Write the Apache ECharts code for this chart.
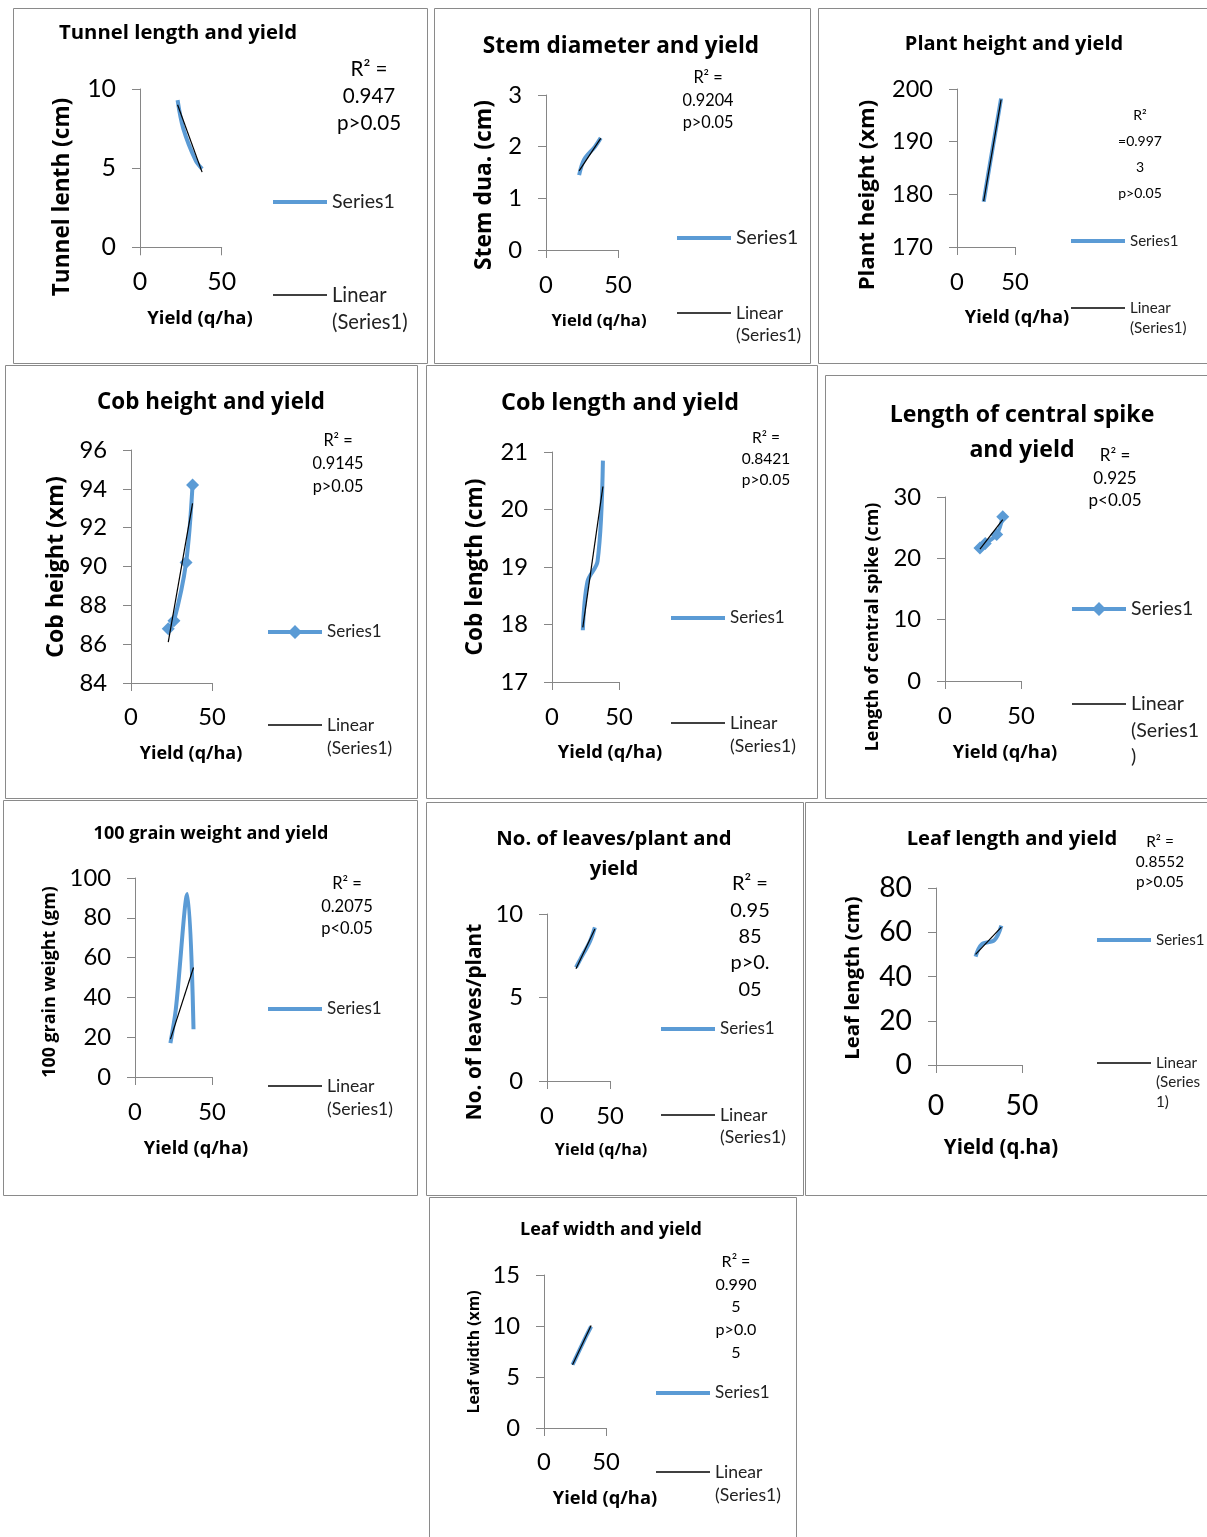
<!DOCTYPE html>
<html>
<head>
<meta charset="utf-8">
<script src="https://cdn.jsdelivr.net/npm/echarts@6/dist/echarts.min.js"></script>
<style>
html,body{margin:0;padding:0;background:#fff;}
#c{width:1207px;height:1537px;}
</style>
</head>
<body>
<div id="c"></div>
<script>
// ---------- data ----------
const yields = [23, 26.5, 34, 38];          // Yield (q/ha), shared x values
const trendX = [23, 38];                    // ends of each linear trendline
const xTicks = [0, 50];

const tunnelLength   = [9.3, 7.5, 5.5, 4.95];
const tunnelTrend    = [9.0, 4.75];
const stemDiameter   = [1.45, 1.75, 2.0, 2.17];
const stemTrend      = [1.53, 2.16];
const plantHeight    = [178.6, 183.3, 193.0, 198.2];
const plantTrend     = [178.7, 198.0];
const cobHeight      = [86.8, 87.2, 90.2, 94.2];
const cobHeightTrend = [86.1, 93.25];
const cobLength      = [17.9, 18.75, 19.1, 20.85];
const cobLengthTrend = [17.95, 20.4];
const spikeLength    = [21.7, 22.4, 23.9, 26.8];
const spikeTrend     = [21.5, 26.3];
const grainWeight    = [17, 34, 92, 24];
const grainTrend     = [19, 55];
const leavesPerPlant = [6.8, 7.3, 8.35, 9.2];
const leavesTrend    = [6.72, 9.1];
const leafLength     = [49, 54.5, 56.5, 63];
const leafLengthTrend= [50, 62.3];
const leafWidth      = [6.2, 7.1, 9.0, 9.95];
const leafWidthTrend = [6.2, 10.05];

// y axis [min, max, interval]
const tunnelAxis = [0, 10, 5];
const stemAxis = [0, 3, 1];
const plantAxis = [170, 200, 10];
const cobHeightAxis = [84, 96, 2];
const cobLengthAxis = [17, 21, 1];
const spikeAxis = [0, 30, 10];
const grainAxis = [0, 100, 20];
const leavesAxis = [0, 10, 5];
const leafLengthAxis = [0, 80, 20];
const leafWidthAxis = [0, 15, 5];

const titles = [
  ['Tunnel length and yield'], ['Stem diameter and yield'], ['Plant height and yield'],
  ['Cob height and yield'], ['Cob length and yield'], ['Length of central spike', 'and yield'],
  ['100 grain weight and yield'], ['No. of leaves/plant and', 'yield'], ['Leaf length and yield'],
  ['Leaf width and yield']
];
const yNames = ['Tunnel lenth (cm)', 'Stem dua. (cm)', 'Plant height (xm)', 'Cob height (xm)',
  'Cob length (cm)', 'Length of central spike (cm)', '100 grain weight (gm)', 'No. of leaves/plant',
  'Leaf length (cm)', 'Leaf width (xm)'];
const xNames = ['Yield (q/ha)', 'Yield (q/ha)', 'Yield (q/ha)', 'Yield (q/ha)', 'Yield (q/ha)',
  'Yield (q/ha)', 'Yield (q/ha)', 'Yield (q/ha)', 'Yield (q.ha)', 'Yield (q/ha)'];
const notes = [
  ['R² =', '0.947', 'p>0.05'], ['R² =', '0.9204', 'p>0.05'], ['R²', '=0.997', '3', 'p>0.05'],
  ['R² =', '0.9145', 'p>0.05'], ['R² =', '0.8421', 'p>0.05'], ['R² =', '0.925', 'p<0.05'],
  ['R² =', '0.2075', 'p<0.05'], ['R² =', '0.95', '85', 'p>0.', '05'], ['R² =', '0.8552', 'p>0.05'],
  ['R² =', '0.990', '5', 'p>0.0', '5']
];
const linLabels = [
  ['Linear', '(Series1)'], ['Linear', '(Series1)'], ['Linear', '(Series1)'], ['Linear', '(Series1)'],
  ['Linear', '(Series1)'], ['Linear', '(Series1', ')'], ['Linear', '(Series1)'], ['Linear', '(Series1)'],
  ['Linear', '(Series', '1)'], ['Linear', '(Series1)']
];

// ---------- layout (positions / sizes only) ----------
const P = [
  {v:tunnelLength, t:tunnelTrend, a:tunnelAxis, box:[13,8,427,363], tx:178, ty:33, ts:20.3, tl:28,
   g:[140,89,221.7,247.3], yl:24.9, xl:24.9, xly:282, ynx:63, yny:197, yns:22.6, xnx:200, xny:318, xns:18.5,
   nx:369, ny:69, ns:20.6, nl:27, lx:273, s1y:202, liy:295, s1s:19.6, lis:20.2, ll:27, mk:false},
  {v:stemDiameter, t:stemTrend, a:stemAxis, box:[434,8,810,363], tx:621, ty:47, ts:22.6, tl:28,
   g:[546,95,618,250], yl:23.8, xl:23.8, xly:285, ynx:485, yny:185, yns:22.9, xnx:599, xny:321, xns:16.7,
   nx:708, ny:78, ns:16.3, nl:22.5, lx:677, s1y:238, liy:313, s1s:19.4, lis:17.4, ll:22, mk:false},
  {v:plantHeight, t:plantTrend, a:plantAxis, box:[818,8,1215,363], tx:1014, ty:44, ts:20, tl:28,
   g:[957,89,1015,247], yl:23.5, xl:23.8, xly:282, ynx:868, yny:195, yns:22.2, xnx:1017, xny:318, xns:18.3,
   nx:1140, ny:115, ns:14, nl:26, lx:1071, s1y:241, liy:308, s1s:15.1, lis:15.1, ll:20, mk:false},
  {v:cobHeight, t:cobHeightTrend, a:cobHeightAxis, box:[5,365,417,798], tx:211, ty:403, ts:22.4, tl:30,
   g:[131,450,212,683], yl:23.8, xl:23.8, xly:717, ynx:56, yny:567, yns:23.1, xnx:191, xny:754, xns:18,
   nx:338, ny:441, ns:16.3, nl:23, lx:268, s1y:632, liy:725, s1s:17, lis:17.4, ll:23, mk:true},
  {v:cobLength, t:cobLengthTrend, a:cobLengthAxis, box:[426,365,817,798], tx:620, ty:403, ts:23.4, tl:30,
   g:[552,452,619,682], yl:23.8, xl:23.8, xly:717, ynx:476, yny:567, yns:22.7, xnx:610, xny:753, xns:18.3,
   nx:766, ny:438, ns:15.5, nl:21, lx:671, s1y:618, liy:723, s1s:17, lis:17.6, ll:23, mk:false},
  {v:spikeLength, t:spikeTrend, a:spikeAxis, box:[825,375,1215,798], tx:1022, ty:415, ts:23.1, tl:35,
   g:[945,497,1021,681], yl:23.8, xl:23.8, xly:716, ynx:873, yny:627, yns:17.9, xnx:1005, xny:753, xns:18.3,
   nx:1115, ny:456, ns:17, nl:22.5, lx:1072, s1y:609, liy:704, s1s:19.4, lis:19.6, ll:26.5, mk:true},
  {v:grainWeight, t:grainTrend, a:grainAxis, box:[3,800,417,1195], tx:211, ty:834, ts:18, tl:26,
   g:[135,878,212,1077], yl:23.8, xl:23.8, xly:1112, ynx:50, yny:982, yns:17.9, xnx:196, xny:1149, xns:18.3,
   nx:347, ny:884, ns:16.5, nl:22.5, lx:268, s1y:1009, liy:1086, s1s:17, lis:17.6, ll:23, mk:false},
  {v:leavesPerPlant, t:leavesTrend, a:leavesAxis, box:[426,802,803,1195], tx:614, ty:839, ts:20.3, tl:30,
   g:[547,914,610,1081], yl:23.8, xl:23.8, xly:1116, ynx:475, yny:1022, yns:20.8, xnx:601, xny:1150, xns:16.2,
   nx:750, ny:884, ns:20, nl:26.3, lx:661, s1y:1029, liy:1115, s1s:17, lis:17.6, ll:22, mk:false},
  {v:leafLength, t:leafLengthTrend, a:leafLengthAxis, box:[805,802,1215,1195], tx:1012, ty:839, ts:20.2, tl:28,
   g:[936,888,1022,1065], yl:28.3, xl:28.3, xly:1106, ynx:853, yny:978, yns:20.3, xnx:1001, xny:1148, xns:20.5,
   nx:1160, ny:842, ns:15.4, nl:20, lx:1097, s1y:940, liy:1063, s1s:15.1, lis:15.2, ll:19.5, mk:false},
  {v:leafWidth, t:leafWidthTrend, a:leafWidthAxis, box:[429,1197,796,1545], tx:611, ty:1230, ts:18, tl:26,
   g:[544,1275,606,1428], yl:23.8, xl:23.8, xly:1462, ynx:475, yny:1352, yns:15.8, xnx:605, xny:1499, xns:18.3,
   nx:736, ny:1262, ns:16.1, nl:22.6, lx:656, s1y:1393, liy:1472, s1s:17, lis:17.6, ll:23, mk:false}
];

const FONT = 'Lato, "Open Sans", "DejaVu Sans", sans-serif';
const FONT_B = '"Open Sans", Roboto, "DejaVu Sans", sans-serif';
const AXIS = '#868686';
const BLUE = '#5B9BD5';
const TXT = '#000';

const option = {
  animation: false,
  backgroundColor: '#fff',
  textStyle: {fontFamily: FONT},
  title: [], grid: [], xAxis: [], yAxis: [], legend: [], series: [], graphic: []
};

P.forEach((p, i) => {
  const [gl, gt, gr, gb] = p.g;
  // panel border
  option.graphic.push({type: 'rect', silent: true, z: -10,
    shape: {x: p.box[0] + 0.5, y: p.box[1] + 0.5, width: p.box[2] - p.box[0], height: p.box[3] - p.box[1]},
    style: {fill: 'none', stroke: '#8a8a8a', lineWidth: 1}});
  // title
  option.title.push({text: titles[i].join('\n'), left: p.tx, top: p.ty - p.tl / 2, textAlign: 'center', padding: 0,
    textStyle: {fontFamily: FONT_B, fontWeight: 'bold', fontSize: p.ts, lineHeight: p.tl, color: TXT}});
  option.grid.push({left: gl, top: gt, width: gr - gl, height: gb - gt, containLabel: false, outerBoundsMode: 'none'});
  const sx = p.xnx - (gl + gr) / 2;
  option.xAxis.push({
    type: 'value', gridIndex: i, min: xTicks[0], max: xTicks[1], interval: xTicks[1] - xTicks[0],
    axisLine: {show: true, onZero: false, lineStyle: {color: AXIS, width: 1}},
    axisTick: {show: true, length: 8, lineStyle: {color: AXIS, width: 1}},
    splitLine: {show: false},
    axisLabel: {fontSize: p.xl, color: TXT, fontFamily: FONT, margin: p.xly - p.xl / 2 - gb},
    name: xNames[i], nameLocation: 'middle', nameGap: p.xny - p.xns / 2 - gb, nameMoveOverlap: false,
    nameTextStyle: {fontSize: p.xns, fontWeight: 'bold', color: TXT, fontFamily: FONT_B,
      padding: sx > 0 ? [0, 0, 0, 2 * sx] : [0, -2 * sx, 0, 0]}
  });
  const sy = p.yny - (gt + gb) / 2;
  option.yAxis.push({
    type: 'value', gridIndex: i, min: p.a[0], max: p.a[1], interval: p.a[2],
    axisLine: {show: true, onZero: false, lineStyle: {color: AXIS, width: 1}},
    axisTick: {show: true, length: 8, lineStyle: {color: AXIS, width: 1}},
    splitLine: {show: false},
    axisLabel: {fontSize: p.yl, color: TXT, fontFamily: FONT, margin: 24},
    name: yNames[i], nameLocation: 'middle', nameGap: gl - (p.ynx + p.yns / 2), nameMoveOverlap: false,
    nameTextStyle: {fontSize: p.yns, fontWeight: 'bold', color: TXT, fontFamily: FONT_B,
      padding: sy > 0 ? [0, 2 * sy, 0, 0] : [0, 0, 0, -2 * sy]}
  });
  option.series.push({
    type: 'line', name: 'Series1', xAxisIndex: i, yAxisIndex: i,
    data: yields.map((x, j) => [x, p.v[j]]),
    smooth: 0.33, symbol: p.mk ? 'diamond' : 'none', symbolSize: 13, showSymbol: p.mk,
    lineStyle: {color: BLUE, width: 4}, itemStyle: {color: BLUE}, silent: true, z: 2
  });
  option.series.push({
    type: 'line', name: 'Linear (Series1)', xAxisIndex: i, yAxisIndex: i,
    data: trendX.map((x, j) => [x, p.t[j]]),
    symbol: 'none', lineStyle: {color: '#000', width: 1.2}, itemStyle: {color: '#000'}, silent: true, z: 3
  });
  // R² note
  option.graphic.push({type: 'text', silent: true,
    style: {text: notes[i].join('\n'), x: p.nx, y: p.ny - p.nl / 2, align: 'center', textAlign: 'center',
      verticalAlign: 'top', textVerticalAlign: 'top', lineHeight: p.nl, fontSize: p.ns, fontFamily: FONT, fill: TXT}});
  // legends (one per entry so each sits where the reference has it)
  const s1Icon = p.mk ? 'path://M0,5 L54,5 L54,9 L0,9 Z M27,0 L34,7 L27,14 L20,7 Z' : 'rect';
  const s1H = p.mk ? 14 : 4;
  option.legend.push({
    left: p.lx, top: p.s1y - p.ll / 2, orient: 'vertical', padding: 0, itemWidth: 54, itemHeight: s1H,
    selectedMode: false, symbolKeepAspect: false,
    data: [{name: 'Series1', icon: s1Icon}],
    itemStyle: {borderWidth: 0, color: BLUE},
    textStyle: {fontSize: p.s1s, lineHeight: p.ll, color: '#222', fontFamily: FONT}
  });
  const lines = linLabels[i];
  const nl = lines.length;
  // blank leading lines keep the first text line level with the legend line
  const lab = new Array(nl - 1).fill('').concat(lines).join('\n');
  option.legend.push({
    left: p.lx, top: p.liy - (2 * nl - 1) * p.ll / 2, orient: 'vertical', padding: 0, itemWidth: 54, itemHeight: 1.3,
    selectedMode: false, symbolKeepAspect: false,
    data: [{name: 'Linear (Series1)', icon: 'rect'}],
    formatter: () => lab,
    itemStyle: {borderWidth: 0, color: '#000'},
    textStyle: {fontSize: p.lis, lineHeight: p.ll, color: '#222', fontFamily: FONT}
  });
});

const chart = echarts.init(document.getElementById('c'), null, {renderer: 'canvas'});
chart.setOption(option);
</script>
</body>
</html>
